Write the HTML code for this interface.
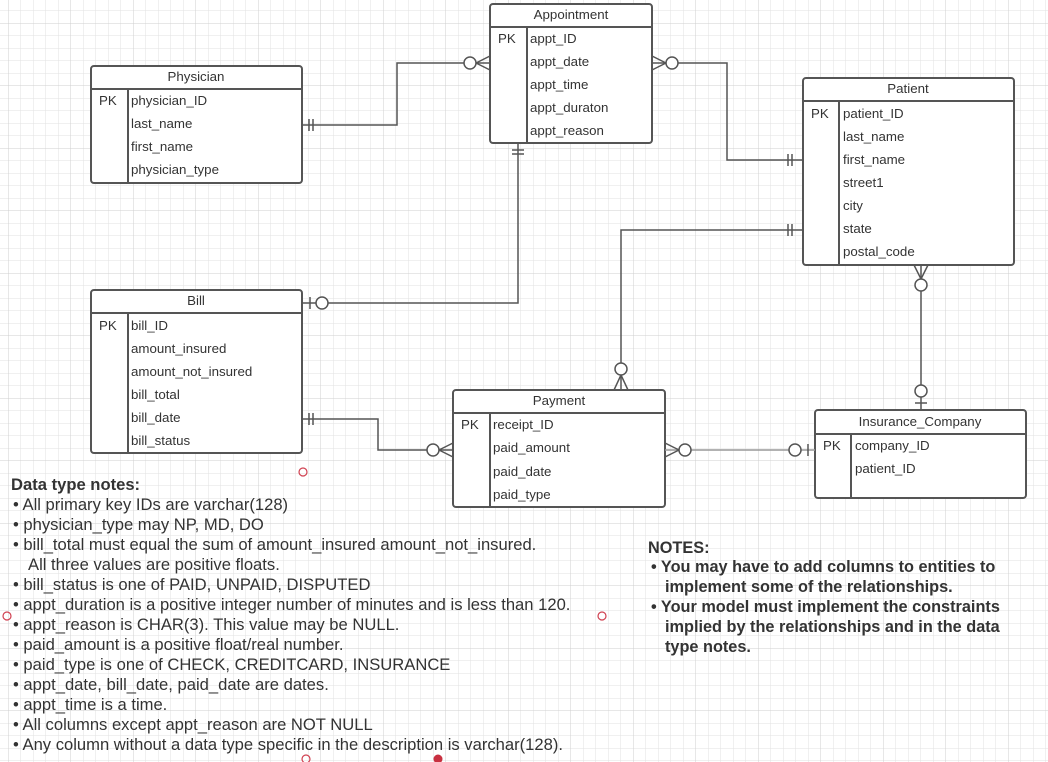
<!DOCTYPE html>
<html><head><meta charset="utf-8"><style>
html,body{margin:0;padding:0;background:#fff;}
svg{display:block;font-family:"Liberation Sans",sans-serif;}
</style></head><body>
<svg width="1048" height="762" viewBox="0 0 1048 762" xmlns="http://www.w3.org/2000/svg">
<defs>
<pattern id="minor" x="8" y="10.5" width="12.5" height="12.5" patternUnits="userSpaceOnUse">
<path d="M0 0V12.5M0 0H12.5" stroke="#e2e2e2" stroke-width="1" fill="none"/></pattern>
<pattern id="major" x="8" y="23" width="62.5" height="62.5" patternUnits="userSpaceOnUse">
<path d="M0 0V62.5M0 0H62.5" stroke="#cfcfcf" stroke-width="1" fill="none"/></pattern>
</defs>
<rect width="1048" height="762" fill="url(#minor)"/>
<rect width="1048" height="762" fill="url(#major)"/>

<g fill="#fff" stroke="#555" stroke-width="2">
<rect x="91" y="66" width="211" height="117" rx="3"/>
<rect x="490" y="4" width="162" height="139" rx="3"/>
<rect x="803" y="78" width="211" height="187" rx="3"/>
<rect x="91" y="290" width="211" height="163" rx="3"/>
<rect x="453" y="390" width="212" height="117" rx="3"/>
<rect x="815" y="410" width="211" height="88" rx="3"/>
</g>
<g stroke="#555" stroke-width="2">
<path d="M91 89H302M128 89V183"/>
<path d="M490 27H652M527 27V143"/>
<path d="M803 101H1014M839 101V265"/>
<path d="M91 313H302M128 313V453"/>
<path d="M453 413H665M490 413V507"/>
<path d="M815 434H1026M851 434V498"/>
</g>

<g font-size="13.3" fill="#333">
<text x="196" y="81" text-anchor="middle">Physician</text>
<text x="99" y="105">PK</text>
<text x="131" y="105">physician_ID</text><text x="131" y="128">last_name</text><text x="131" y="151">first_name</text><text x="131" y="174">physician_type</text>

<text x="571" y="19" text-anchor="middle">Appointment</text>
<text x="498" y="43">PK</text>
<text x="530" y="43">appt_ID</text><text x="530" y="66">appt_date</text><text x="530" y="89">appt_time</text><text x="530" y="112">appt_duraton</text><text x="530" y="135">appt_reason</text>

<text x="908" y="93" text-anchor="middle">Patient</text>
<text x="811" y="118">PK</text>
<text x="843" y="118">patient_ID</text><text x="843" y="141">last_name</text><text x="843" y="164">first_name</text><text x="843" y="187">street1</text><text x="843" y="210">city</text><text x="843" y="233">state</text><text x="843" y="256">postal_code</text>

<text x="196" y="305" text-anchor="middle">Bill</text>
<text x="99" y="330">PK</text>
<text x="131" y="330">bill_ID</text><text x="131" y="353">amount_insured</text><text x="131" y="376">amount_not_insured</text><text x="131" y="399">bill_total</text><text x="131" y="422">bill_date</text><text x="131" y="445">bill_status</text>

<text x="559" y="405" text-anchor="middle">Payment</text>
<text x="461" y="429">PK</text>
<text x="493" y="429">receipt_ID</text><text x="493" y="452">paid_amount</text><text x="493" y="476">paid_date</text><text x="493" y="499">paid_type</text>

<text x="920" y="426" text-anchor="middle">Insurance_Company</text>
<text x="823" y="450">PK</text>
<text x="855" y="450">company_ID</text><text x="855" y="473">patient_ID</text>
</g>

<g stroke="#555" stroke-width="1.5" fill="none">
<path d="M302 125H397V63H490"/>
<path d="M309 119V131M313 119V131"/>
<circle cx="470" cy="63" r="6" fill="#fff"/>
<path d="M476 63L490 56M476 63L490 70"/>
<path d="M652 63H727V160H803"/>
<circle cx="672" cy="63" r="6" fill="#fff"/>
<path d="M666 63L652 56M666 63L652 70"/>
<path d="M788 154V166M792 154V166"/>
<path d="M518 143V303H302"/>
<path d="M512 150H524M512 154H524"/>
<circle cx="322" cy="303" r="6" fill="#fff"/>
<path d="M310 297V309"/>
<path d="M803 230H621V390"/>
<path d="M788 224V236M792 224V236"/>
<circle cx="621" cy="369" r="6" fill="#fff"/>
<path d="M621 375L614 390M621 375L628 390"/>
<path d="M921 265V410"/>
<path d="M921 279L914 265M921 279L928 265"/>
<circle cx="921" cy="285" r="6" fill="#fff"/>
<circle cx="921" cy="391" r="6" fill="#fff"/>
<path d="M915 403H927"/>
<path d="M302 419H378V450H453"/>
<path d="M309 413V425M313 413V425"/>
<circle cx="433" cy="450" r="6" fill="#fff"/>
<path d="M439 450L453 443M439 450L453 457"/>
<path d="M665 450H815" stroke="#999"/>
<circle cx="685" cy="450" r="6" fill="#fff"/>
<path d="M679 450L665 443M679 450L665 457"/>
<circle cx="795" cy="450" r="6" fill="#fff"/>
<path d="M808 444V456"/>
</g>

<g fill="none" stroke="#d04050" stroke-width="1.2">
<circle cx="303" cy="472" r="4"/><circle cx="7" cy="616" r="4"/><circle cx="602" cy="616" r="4"/><circle cx="306" cy="759" r="4"/>
</g>
<circle cx="438" cy="759" r="4.5" fill="#c83040"/>

<g font-size="16.6" fill="#333">
<text x="11" y="490" font-weight="bold">Data type notes:</text>
<text x="13" y="510">• All primary key IDs are varchar(128)</text>
<text x="13" y="530">• physician_type may NP, MD, DO</text>
<text x="13" y="550">• bill_total must equal the sum of amount_insured amount_not_insured.</text>
<text x="28" y="570">All three values are positive floats.</text>
<text x="13" y="590">• bill_status is one of PAID, UNPAID, DISPUTED</text>
<text x="13" y="610">• appt_duration is a positive integer number of minutes and is less than 120.</text>
<text x="13" y="630">• appt_reason is CHAR(3). This value may be NULL.</text>
<text x="13" y="650">• paid_amount is a positive float/real number.</text>
<text x="13" y="670">• paid_type is one of CHECK, CREDITCARD, INSURANCE</text>
<text x="13" y="690">• appt_date, bill_date, paid_date are dates.</text>
<text x="13" y="710">• appt_time is a time.</text>
<text x="13" y="730">• All columns except appt_reason are NOT NULL</text>
<text x="13" y="750">• Any column without a data type specific in the description is varchar(128).</text>
</g>
<g font-size="16.3" fill="#333" font-weight="bold">
<text x="648" y="553">NOTES:</text>
<text x="651" y="572">• You may have to add columns to entities to</text>
<text x="665" y="592">implement some of the relationships.</text>
<text x="651" y="612">• Your model must implement the constraints</text>
<text x="665" y="632">implied by the relationships and in the data</text>
<text x="665" y="652">type notes.</text>
</g>
</svg>
</body></html>
